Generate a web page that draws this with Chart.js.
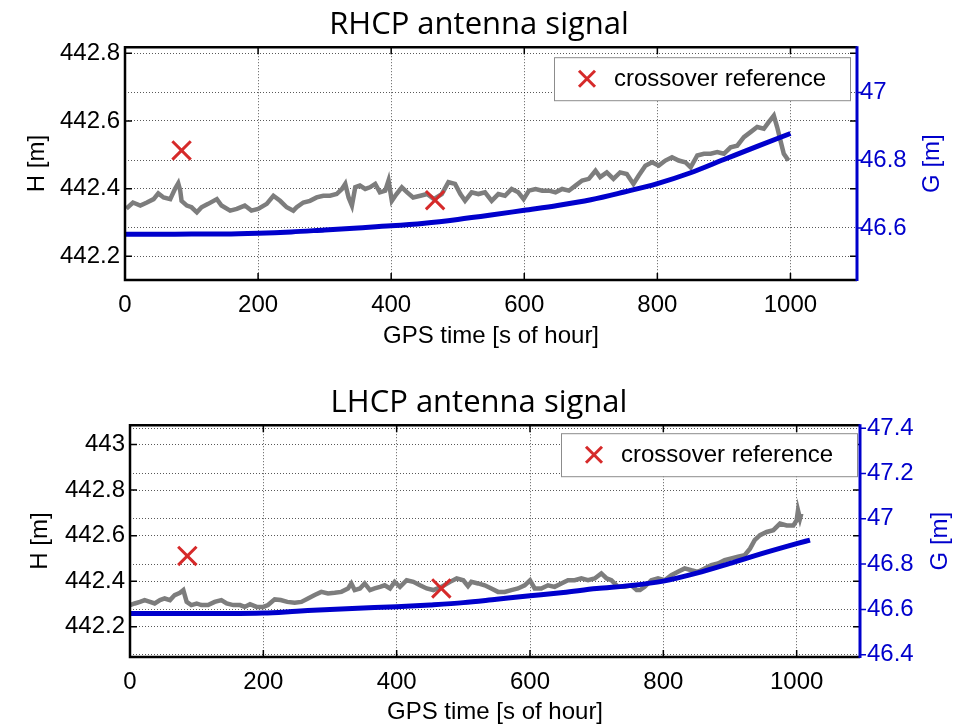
<!DOCTYPE html>
<html>
<head>
<meta charset="utf-8">
<script src="https://cdn.jsdelivr.net/npm/chart.js@4.4.1/dist/chart.umd.min.js"></script>
<style>
  html, body { margin: 0; padding: 0; background: #fff; }
  #wrap { position: relative; width: 958px; height: 728px; }
  .box { position: absolute; left: 0; width: 958px; height: 364px; }
</style>
</head>
<body>
<div id="wrap">
  <div class="box" style="top:0"><canvas id="rhcp"></canvas></div>
  <div class="box" style="top:364px"><canvas id="lhcp"></canvas></div>
</div>
<script>
// RHCP panel - height H (left axis) and G (right axis), time in s of hour
const rhcpTimeH = [2, 12, 23, 33, 43, 50, 58, 68, 75, 80, 83, 85, 93, 100, 108, 115, 125, 138, 145, 158, 168, 180, 190, 200, 213, 223, 233, 243, 253,
  258, 268, 278, 288, 298, 308, 318, 326, 331, 336, 341, 346, 353, 361, 368, 376, 383, 391, 396, 401, 408, 416, 424, 433, 444, 454, 464, 476, 486, 496, 504, 511,
  521, 531, 541, 551, 561, 571, 581, 591, 599, 607, 617, 627, 637, 647, 657, 667, 677, 687, 697, 707, 714, 724, 734, 744, 754, 764,
  772, 782, 792, 802, 812, 822, 832, 842, 850, 860, 870, 880, 890, 900, 910, 920, 930, 940, 950, 960, 967, 975, 980, 985, 990, 997];
const rhcpH = [442.341, 442.359, 442.350, 442.359, 442.369, 442.386, 442.374, 442.369, 442.399, 442.416, 442.394, 442.364, 442.350, 442.345, 442.330, 442.345, 442.355, 442.369, 442.350, 442.335, 442.340, 442.350, 442.335, 442.340, 442.355, 442.379, 442.364, 442.345, 442.335,
  442.345, 442.359, 442.364, 442.374, 442.379, 442.379, 442.384, 442.399, 442.414, 442.374, 442.350, 442.404, 442.409, 442.399, 442.404, 442.414, 442.389, 442.394, 442.424, 442.364, 442.384, 442.404, 442.389, 442.374, 442.379, 442.384, 442.369, 442.384, 442.419, 442.414, 442.384, 442.364,
  442.389, 442.384, 442.389, 442.364, 442.384, 442.379, 442.399, 442.389, 442.369, 442.394, 442.399, 442.394, 442.394, 442.389, 442.399, 442.394, 442.409, 442.424, 442.429, 442.453, 442.434, 442.448, 442.429, 442.448, 442.443, 442.414,
  442.439, 442.468, 442.478, 442.468, 442.483, 442.493, 442.483, 442.478, 442.463, 442.498, 442.503, 442.503, 442.508, 442.503, 442.522, 442.527, 442.552, 442.567, 442.582, 442.577, 442.596, 442.616, 442.582, 442.542, 442.503, 442.483];
const rhcpTimeG = [0, 50, 100, 150, 200, 250, 300, 350, 400, 450, 500, 550, 600, 650, 700, 750, 800, 850, 900, 950, 1000];
const rhcpG = [46.581, 46.581, 46.582, 46.582, 46.584, 46.588, 46.594, 46.600, 46.606, 46.614, 46.625, 46.638, 46.652, 46.666, 46.683, 46.706, 46.731, 46.763, 46.802, 46.841, 46.879];
const rhcpCrossT = [85, 466];
const rhcpCrossH = [442.513, 442.366];

// LHCP panel
const lhcpTimeH = [0, 7, 15, 22, 30, 37, 45, 52, 60, 67, 75, 80, 85, 92, 100, 107, 117, 127, 137, 145, 155, 165, 172, 180, 190, 200, 207, 217, 226, 236, 247,
  257, 267, 277, 287, 297, 307, 317, 327, 332, 337, 345, 352, 360, 367, 375, 382, 390, 397, 405, 415, 425, 435, 445, 455, 467, 480, 490, 500, 507,
  512, 522, 532, 542, 552, 562, 572, 582, 592, 600, 607, 617, 627, 637, 647, 657, 667, 677, 687, 697, 707, 715, 722, 732, 742, 752, 760,
  765, 772, 782, 792, 802, 812, 822, 832, 842, 852, 862, 872, 882, 892, 902, 912, 922, 930, 937, 945, 955, 965, 975, 985, 995, 1000, 1002, 1005, 1007];
const lhcpH = [442.295, 442.302, 442.309, 442.317, 442.309, 442.302, 442.317, 442.324, 442.317, 442.339, 442.349, 442.361, 442.309, 442.295, 442.302, 442.295, 442.295, 442.309, 442.317, 442.302, 442.295, 442.295, 442.287, 442.299, 442.287, 442.287, 442.295, 442.320, 442.317, 442.309, 442.305,
  442.309, 442.324, 442.339, 442.353, 442.346, 442.349, 442.353, 442.368, 442.390, 442.361, 442.368, 442.390, 442.361, 442.368, 442.375, 442.382, 442.368, 442.397, 442.375, 442.404, 442.397, 442.382, 442.368, 442.361, 442.375, 442.397, 442.412, 442.404, 442.378,
  442.397, 442.390, 442.382, 442.368, 442.353, 442.353, 442.361, 442.368, 442.382, 442.404, 442.368, 442.368, 442.382, 442.375, 442.390, 442.404, 442.404, 442.412, 442.404, 442.412, 442.434, 442.412, 442.404, 442.375, 442.375, 442.382, 442.361,
  442.361, 442.375, 442.404, 442.412, 442.404, 442.426, 442.441, 442.456, 442.448, 442.441, 442.456, 442.470, 442.478, 442.492, 442.500, 442.507, 442.514, 442.543, 442.580, 442.602, 442.616, 442.624, 442.653, 442.645, 442.645, 442.668, 442.711, 442.675, 442.697];
const lhcpTimeG = [0, 50, 100, 150, 200, 250, 300, 350, 400, 450, 500, 550, 600, 650, 700, 750, 800, 850, 900, 950, 1000, 1020];
const lhcpG = [46.582, 46.582, 46.582, 46.582, 46.584, 46.592, 46.600, 46.606, 46.612, 46.620, 46.630, 46.645, 46.660, 46.675, 46.692, 46.705, 46.725, 46.760, 46.803, 46.848, 46.890, 46.906];
const lhcpCrossT = [86, 467];
const lhcpCrossH = [442.511, 442.368];

const xTicks = [0, 200, 400, 600, 800, 1000];
const legendLabel = 'crossover reference';

const RED = '#d62a2a';
const BLUE = '#0000cc';
const GRAY = '#7d7d7d';
const GRID = 'rgba(0,0,0,0.65)';
const FONT = "'Liberation Sans', Arial, sans-serif";

const fmt = v => String(Math.round(v * 10) / 10);

// draws the box, inner tick marks, legend and right-hand axis title
const matlabFrame = {
  id: 'matlabFrame',
  afterDatasetsDraw(chart, args, o) {
    const { ctx, chartArea: a, scales } = chart;
    ctx.save();
    ctx.lineWidth = 1.5;
    ctx.strokeStyle = '#000';
    ctx.beginPath();
    scales.x.ticks.forEach(t => {
      const px = scales.x.getPixelForValue(t.value);
      ctx.moveTo(px, a.bottom); ctx.lineTo(px, a.bottom - 7);
      ctx.moveTo(px, a.top); ctx.lineTo(px, a.top + 7);
    });
    scales.yH.ticks.forEach(t => {
      const py = scales.yH.getPixelForValue(t.value);
      ctx.moveTo(a.left, py); ctx.lineTo(a.left + 7, py);
      ctx.moveTo(a.right, py); ctx.lineTo(a.right - 7, py);
    });
    ctx.stroke();
    ctx.strokeStyle = BLUE;
    ctx.beginPath();
    scales.yG.ticks.forEach(t => {
      const py = scales.yG.getPixelForValue(t.value);
      ctx.moveTo(a.right, py); ctx.lineTo(a.right + 6, py);
    });
    ctx.stroke();
    ctx.lineWidth = 2.5;
    ctx.strokeStyle = '#000';
    ctx.beginPath();
    ctx.moveTo(a.right, a.top); ctx.lineTo(a.left, a.top);
    ctx.lineTo(a.left, a.bottom); ctx.lineTo(a.right, a.bottom);
    ctx.stroke();
    ctx.lineWidth = 3;
    ctx.strokeStyle = BLUE;
    ctx.beginPath();
    ctx.moveTo(a.right, a.top - 1); ctx.lineTo(a.right, a.bottom + 1);
    ctx.stroke();

    // legend box
    const w = 296, h = 43;
    const lx = a.right - o.legendRight - w, ly = a.top + o.legendTop;
    ctx.fillStyle = '#fff';
    ctx.fillRect(lx, ly, w, h);
    ctx.lineWidth = 1;
    ctx.strokeStyle = '#8c8c8c';
    ctx.strokeRect(lx + 0.5, ly + 0.5, w, h);
    const mx = lx + 33, my = ly + h / 2, r = 8;
    ctx.strokeStyle = RED;
    ctx.lineWidth = 3;
    ctx.beginPath();
    ctx.moveTo(mx - r, my - r); ctx.lineTo(mx + r, my + r);
    ctx.moveTo(mx + r, my - r); ctx.lineTo(mx - r, my + r);
    ctx.stroke();
    ctx.fillStyle = '#000';
    ctx.font = '24px ' + FONT;
    ctx.textAlign = 'left';
    ctx.textBaseline = 'middle';
    ctx.fillText(chart.data.datasets[0].label, lx + 60, my + 1);

    // right axis title, reads bottom to top like MATLAB
    ctx.fillStyle = BLUE;
    ctx.translate(o.gTitleX, (a.top + a.bottom) / 2);
    ctx.rotate(-Math.PI / 2);
    ctx.textAlign = 'center';
    ctx.fillText('G [m]', 0, 0);
    ctx.restore();
  }
};

function buildChart(id, p) {
  const tickFont = { family: FONT, size: 24 };
  return new Chart(document.getElementById(id), {
    type: 'line',
    data: {
      datasets: [
        {
          label: legendLabel,
          data: p.crossT.map((t, i) => ({ x: t, y: p.crossH[i] })),
          yAxisID: 'yH',
          showLine: false,
          pointStyle: 'crossRot',
          pointRadius: 13,
          pointBorderWidth: 3,
          pointBorderColor: RED,
          pointBackgroundColor: RED
        },
        {
          label: 'G',
          data: p.timeG.map((t, i) => ({ x: t, y: p.g[i] })),
          yAxisID: 'yG',
          borderColor: BLUE,
          borderWidth: 5,
          pointRadius: 0,
          cubicInterpolationMode: 'monotone'
        },
        {
          label: 'H',
          data: p.timeH.map((t, i) => ({ x: t, y: p.h[i] })),
          yAxisID: 'yH',
          borderColor: GRAY,
          borderWidth: 4.5,
          pointRadius: 0,
          tension: 0
        }
      ]
    },
    options: {
      responsive: true,
      maintainAspectRatio: false,
      animation: false,
      layout: { padding: 0 },
      plugins: {
        legend: { display: false },
        tooltip: { enabled: false },
        title: {
          display: true,
          text: p.title,
          color: '#000',
          font: { family: "'Open Sans', sans-serif", size: 31, weight: 'normal' },
          padding: p.titlePad
        },
        matlabFrame: p.frame
      },
      scales: {
        x: {
          type: 'linear',
          min: 0,
          max: p.xMax,
          afterFit: s => { s.height = p.xHeight; },
          afterBuildTicks: s => { s.ticks = xTicks.map(v => ({ value: v })); },
          ticks: { color: '#000', font: tickFont, padding: 11, maxRotation: 0, callback: v => String(v) },
          grid: { drawTicks: false, color: GRID, lineWidth: 1 },
          border: { display: false, dash: [1, 2] },
          title: {
            display: true,
            text: 'GPS time [s of hour]',
            color: '#000',
            font: tickFont,
            padding: { top: 0, bottom: p.xTitlePad }
          }
        },
        yH: {
          position: 'left',
          min: p.hMin,
          max: p.hMax,
          afterFit: s => { s.width = p.leftW; },
          ticks: { stepSize: 0.2, includeBounds: false, color: '#000', font: tickFont, padding: 5, callback: fmt },
          grid: { drawTicks: false, color: GRID, lineWidth: 1 },
          border: { display: false, dash: [1, 2] },
          title: {
            display: true,
            text: 'H [m]',
            color: '#000',
            font: tickFont,
            padding: { top: p.hTitlePad, bottom: 0 }
          }
        },
        yG: {
          position: 'right',
          min: p.gMin,
          max: p.gMax,
          afterFit: s => { s.width = p.rightW; },
          ticks: { stepSize: 0.2, includeBounds: false, color: BLUE, font: tickFont, padding: p.gTickPad, callback: fmt },
          grid: { drawTicks: false, color: GRID, lineWidth: 1 },
          border: { display: false, dash: [1, 2] }
        }
      }
    },
    plugins: [matlabFrame]
  });
}

buildChart('rhcp', {
  title: 'RHCP antenna signal',
  timeH: rhcpTimeH, h: rhcpH, timeG: rhcpTimeG, g: rhcpG, crossT: rhcpCrossT, crossH: rhcpCrossH,
  xMax: 1100, hMin: 442.13, hMax: 442.818, gMin: 46.446, gMax: 47.134,
  titlePad: { top: 7, bottom: 3 }, xHeight: 84, xTitlePad: 13, leftW: 125, rightW: 101,
  hTitlePad: 23, gTickPad: 3,
  frame: { legendRight: 7, legendTop: 10, gTitleX: 932 }
});

buildChart('lhcp', {
  title: 'LHCP antenna signal',
  timeH: lhcpTimeH, h: lhcpH, timeG: lhcpTimeG, g: lhcpG, crossT: lhcpCrossT, crossH: lhcpCrossH,
  xMax: 1095, hMin: 442.067, hMax: 443.085, gMin: 46.39, gMax: 47.413,
  titlePad: { top: 21, bottom: 3 }, xHeight: 71, xTitlePad: 1, leftW: 130, rightW: 98,
  hTitlePad: 26, gTickPad: 7,
  frame: { legendRight: 3, legendTop: 8, gTitleX: 940 }
});
</script>
</body>
</html>
